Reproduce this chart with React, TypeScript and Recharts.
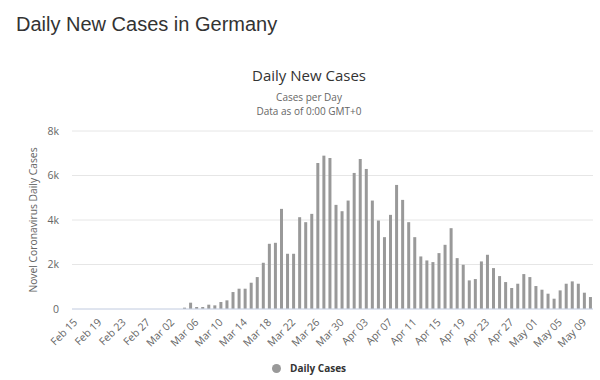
import { BarChart, Bar, XAxis, YAxis, CartesianGrid } from 'recharts';

// first day of the series: Feb 15 (2020, leap year)
const MONTHS = ['Jan', 'Feb', 'Mar', 'Apr', 'May'];
const startMonth = 1;
const startDay = 15;
const monthLengths = [31, 29, 31, 30, 31];

// daily new cases, Feb 15 .. May 10
const zeroDays = [0, 0, 0, 0, 0, 0, 0, 0, 0, 0, 0, 0, 0, 0, 0, 0, 0, 0];
const marchCases = [
  60, 284, 90, 90, 194, 164, 314, 389, 762, 912, 912, 1181, 1435, 2078,
  2930, 2975, 4500, 2482, 2482, 4126, 3902, 4276, 6563, 6892, 6787, 4680, 4395, 4874,
];
const aprilCases = [
  6115, 6742, 6294, 4874, 3977, 3229, 4231, 5576, 4904, 3902, 3229, 2362, 2183, 2108, 2512,
  2885, 3633, 2287, 1988, 1286, 1346, 2138, 2437, 1839, 1480, 1211, 942, 1136, 1570, 1435,
];
const mayCases = [1032, 867, 688, 463, 837, 1136, 1241, 1136, 733, 538];

const cases = [...zeroDays, ...marchCases, ...aprilCases, ...mayCases];
const yTicks = [0, 2000, 4000, 6000, 8000];
const subtitleLines = ['Cases per Day', 'Data as of 0:00 GMT+0'];

function dateLabel(i: number) {
  let m = startMonth;
  let d = startDay + i;
  while (d > monthLengths[m]) {
    d -= monthLengths[m];
    m += 1;
  }
  return `${MONTHS[m]} ${String(d).padStart(2, '0')}`;
}

const data = cases.map((v, i) => ({ date: dateLabel(i), cases: v }));

const BAR = '#999999';
const TXT = '#666666';
const FONT = '"Open Sans", "DejaVu Sans", sans-serif';

function DateTick(props: any) {
  const { x, y, payload } = props;
  const tx = x + 3;
  const ty = y + 14;
  return (
    <text
      x={tx}
      y={ty}
      transform={`rotate(-45 ${tx} ${ty})`}
      textAnchor="end"
      fill={TXT}
      fontSize={10.5}
      fontFamily={FONT}
    >
      {payload.value}
    </text>
  );
}

export default function App() {
  return (
    <div style={{ position: 'absolute', left: 0, top: 0, width: 600, height: 380, background: '#fff' }}>
      <div
        style={{
          position: 'absolute',
          left: 16,
          top: 14,
          fontFamily: '"Liberation Sans", Arial, sans-serif',
          fontSize: 20,
          lineHeight: '20px',
          color: '#333',
          whiteSpace: 'nowrap',
        }}
      >
        Daily New Cases in Germany
      </div>
      <div
        style={{
          position: 'absolute',
          left: 0,
          width: 618,
          top: 65,
          textAlign: 'center',
          fontFamily: FONT,
          fontSize: 15,
          lineHeight: '20px',
          color: '#333',
        }}
      >
        Daily New Cases
      </div>
      {subtitleLines.map((line, i) => (
        <div
          key={line}
          style={{
            position: 'absolute',
            left: 0,
            width: 618,
            top: 91 + i * 13.5,
            textAlign: 'center',
            fontFamily: FONT,
            fontSize: 10,
            lineHeight: '13px',
            color: TXT,
          }}
        >
          {line}
        </div>
      ))}

      <BarChart
        width={600}
        height={380}
        data={data}
        margin={{ top: 131, right: 7, bottom: 0, left: 0 }}
        barSize={3}
      >
        <CartesianGrid vertical={false} stroke="#e6e6e6" />
        <XAxis
          dataKey="date"
          interval={3}
          height={71}
          tickLine={false}
          tickSize={0}
          tickMargin={0}
          axisLine={{ stroke: '#ccd6eb' }}
          tick={<DateTick />}
        />
        <YAxis
          width={72}
          domain={[0, 8000]}
          ticks={yTicks}
          axisLine={false}
          tickLine={false}
          tickSize={0}
          tickMargin={13}
          tick={{ fill: TXT, fontSize: 10.5, fontFamily: FONT }}
          tickFormatter={(v: number) => (v === 0 ? '0' : `${v / 1000}k`)}
          label={{
            content: (p: any) => {
              const vb = p.viewBox;
              const lx = vb.x + 33;
              const ly = vb.y + vb.height / 2;
              return (
                <text
                  x={lx}
                  y={ly}
                  transform={`rotate(-90 ${lx} ${ly})`}
                  textAnchor="middle"
                  dominantBaseline="central"
                  fill={TXT}
                  fontSize={10.3}
                  fontFamily={FONT}
                >
                  Novel Coronavirus Daily Cases
                </text>
              );
            },
          }}
        />
        <Bar dataKey="cases" fill={BAR} isAnimationActive={false} />
      </BarChart>

      <div
        style={{
          position: 'absolute',
          left: 272,
          top: 361,
          display: 'flex',
          alignItems: 'center',
          fontFamily: FONT,
          fontSize: 10,
          fontWeight: 700,
          color: '#333',
          whiteSpace: 'nowrap',
        }}
      >
        <span
          style={{ width: 9, height: 9, borderRadius: '50%', background: BAR, display: 'inline-block', marginRight: 9 }}
        />
        Daily Cases
      </div>
    </div>
  );
}
